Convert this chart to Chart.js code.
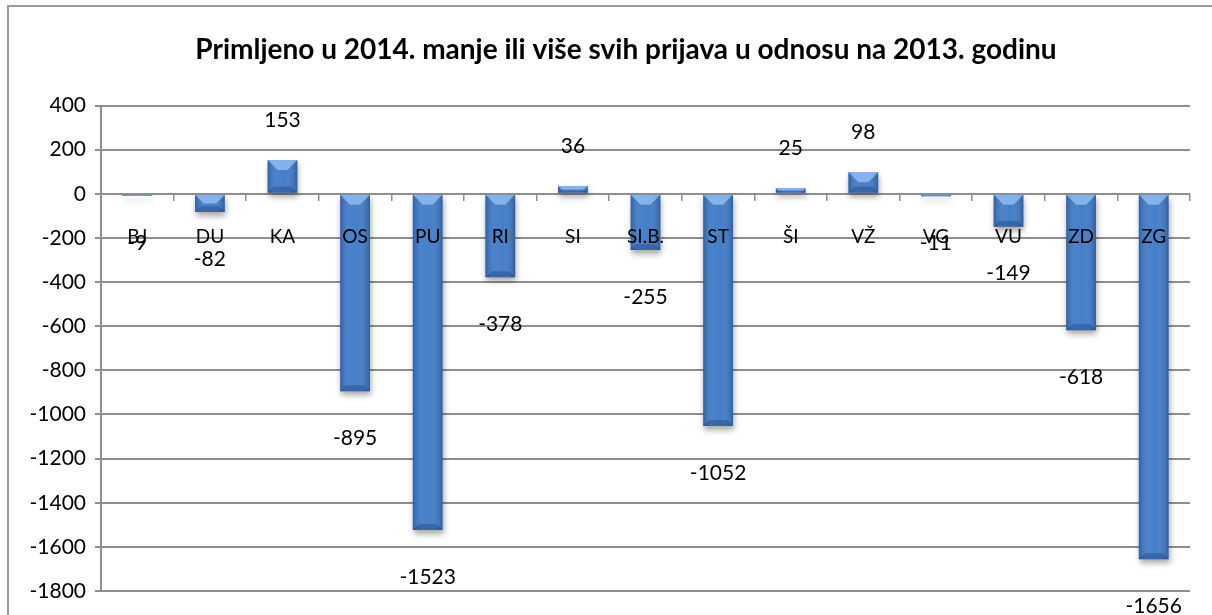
<!DOCTYPE html>
<html>
<head>
<meta charset="utf-8">
<script src="https://cdn.jsdelivr.net/npm/chart.js@4.4.1/dist/chart.umd.min.js"></script>
<style>
html,body{margin:0;padding:0;background:#fff;}
#wrap{position:relative;width:1212px;height:615px;}
</style>
</head>
<body>
<div id="wrap"><canvas id="c" width="1212" height="615"></canvas></div>
<script>
const titleText = 'Primljeno u 2014. manje ili više svih prijava u odnosu na 2013. godinu';
const categories = ['BJ','DU','KA','OS','PU','RI','SI','SI.B.','ST','ŠI','VŽ','VG','VU','ZD','ZG'];
const values = [-9, -82, 153, -895, -1523, -378, 36, -255, -1052, 25, 98, -11, -149, -618, -1656];
const yMin = -1800, yMax = 400, yStep = 200;

const FONT = 'Lato, "Open Sans", sans-serif';
const GRID = '#8e8e8e';

const framePlugin = {
  id: 'frame',
  beforeDraw(chart) {
    const ctx = chart.ctx;
    ctx.save();
    ctx.fillStyle = '#fff';
    ctx.fillRect(0, 0, chart.width, chart.height);
    ctx.strokeStyle = '#9a9a9a';
    ctx.lineWidth = 2;
    ctx.beginPath();
    ctx.moveTo(8, chart.height);
    ctx.lineTo(8, 6);
    ctx.lineTo(chart.width, 6);
    ctx.stroke();
    ctx.restore();
  },
  afterLayout(chart) {
    if (chart.titleBlock) {
      chart.titleBlock.left = 62;
      chart.titleBlock.right = chart.chartArea.right;
      chart.titleBlock.width = chart.titleBlock.right - chart.titleBlock.left;
    }
  }
};

const barStyle = {
  id: 'barStyle',
  beforeDatasetsDraw(chart) {
    const ctx = chart.ctx;
    ctx.save();
    ctx.shadowColor = 'rgba(0,0,0,0.35)';
    ctx.shadowBlur = 6;
    ctx.shadowOffsetX = 1;
    ctx.shadowOffsetY = 4;
  },
  afterDatasetsDraw(chart) {
    const ctx = chart.ctx;
    ctx.restore();
    const meta = chart.getDatasetMeta(0);
    ctx.save();
    meta.data.forEach((bar) => {
      const L = bar.x - bar.width / 2, R = bar.x + bar.width / 2;
      const T = Math.min(bar.y, bar.base), B = Math.max(bar.y, bar.base);
      const h = B - T;
      if (h < 0.5) return;
      const g = ctx.createLinearGradient(L, 0, R, 0);
      g.addColorStop(0, 'rgba(10,35,80,0.30)');
      g.addColorStop(0.35, 'rgba(255,255,255,0.07)');
      g.addColorStop(0.6, 'rgba(255,255,255,0.05)');
      g.addColorStop(1, 'rgba(10,35,80,0.30)');
      ctx.fillStyle = g;
      ctx.fillRect(L, T, R - L, h);
      const b = Math.min(10, h / 2);
      ctx.fillStyle = 'rgba(165,205,250,0.65)';
      ctx.beginPath();
      ctx.moveTo(L, T); ctx.lineTo(R, T); ctx.lineTo(R - b, T + b); ctx.lineTo(L + b, T + b); ctx.closePath();
      ctx.fill();
      const bb = Math.min(6, h / 3);
      ctx.fillStyle = 'rgba(15,45,95,0.3)';
      ctx.beginPath();
      ctx.moveTo(L, B); ctx.lineTo(R, B); ctx.lineTo(R - bb, B - bb); ctx.lineTo(L + bb, B - bb); ctx.closePath();
      ctx.fill();
    });
    ctx.restore();
    ctx.save();
    ctx.fillStyle = '#000';
    ctx.font = '21px ' + FONT;
    ctx.textAlign = 'center';
    ctx.textBaseline = 'middle';
    meta.data.forEach((bar, i) => {
      const v = values[i];
      const y = v < 0 ? bar.y + 47 : bar.y - 40;
      ctx.fillText(String(v), bar.x, y);
    });
    ctx.restore();
  }
};

new Chart(document.getElementById('c'), {
  type: 'bar',
  data: {
    labels: categories,
    datasets: [{
      data: values,
      backgroundColor: '#3c78c6',
      borderWidth: 0,
      categoryPercentage: 1,
      barPercentage: 0.41
    }]
  },
  options: {
    responsive: false,
    animation: false,
    devicePixelRatio: 1,
    layout: { padding: { left: 7, right: 22, top: 0, bottom: 24 } },
    plugins: {
      legend: { display: false },
      tooltip: { enabled: false },
      title: {
        display: true,
        text: titleText,
        color: '#000',
        font: { family: FONT, size: 28, weight: 'bold' },
        padding: { top: 33, bottom: 39 }
      }
    },
    scales: {
      x: {
        position: { y: 0 },
        offset: true,
        grid: {
          display: true,
          drawOnChartArea: false,
          drawTicks: true,
          tickLength: 7,
          offset: true,
          color: GRID,
          lineWidth: 1.5,
          z: 1
        },
        border: { display: false },
        ticks: {
          color: '#000',
          font: { family: FONT, size: 19 },
          padding: 25,
          maxRotation: 0,
          autoSkip: false,
          z: 2
        },
        afterFit(scale) { scale.height = 0; }
      },
      y: {
        min: yMin,
        max: yMax,
        grid: {
          color: GRID,
          lineWidth: 2,
          drawTicks: true,
          tickLength: 6
        },
        border: { display: true, color: GRID, width: 2 },
        ticks: {
          stepSize: yStep,
          color: '#000',
          font: { family: FONT, size: 21 },
          padding: 9,
          callback: (v) => String(v)
        },
        afterFit(scale) { scale.width = 94; }
      }
    }
  },
  plugins: [framePlugin, barStyle]
});
</script>
</body>
</html>
